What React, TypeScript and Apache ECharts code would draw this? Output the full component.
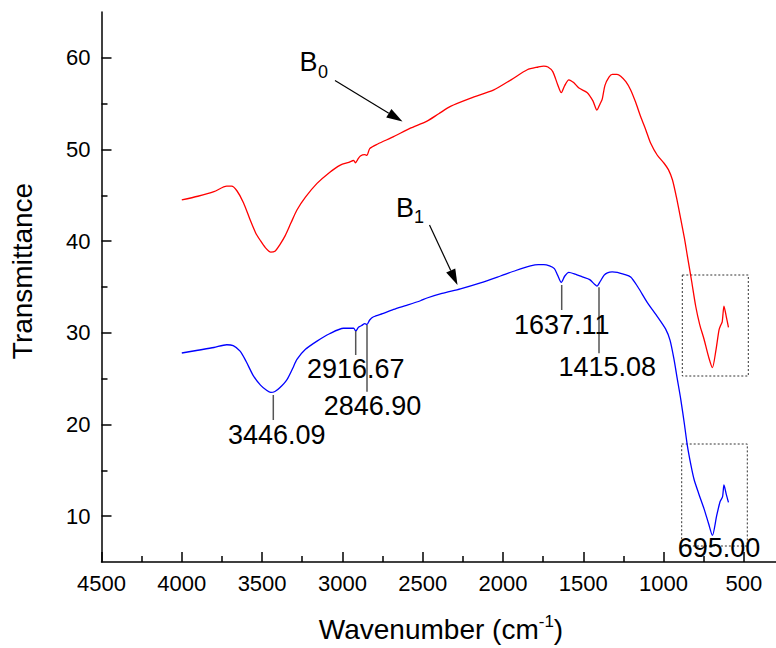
import React, { useEffect, useRef } from "react";
import * as echarts from "echarts";

const FONT = '"Liberation Sans", Arial, Helvetica, sans-serif';

// X axis (wavenumber, cm-1), reversed
const xMajorTicks = [4500, 4000, 3500, 3000, 2500, 2000, 1500, 1000, 500];
const xMinorTicks = [4250, 3750, 3250, 2750, 2250, 1750, 1250, 750];
// Y axis (transmittance)
const yMajorTicks = [10, 20, 30, 40, 50, 60];
const yMinorTicks = [15, 25, 35, 45, 55];

// Sample B0 (red)
const b0Wavenumber = [
  4000, 3900, 3800, 3720, 3690, 3657, 3616, 3574, 3540, 3512, 3480, 3446, 3420, 3390, 3356, 3320,
  3283, 3230, 3158, 3080, 3013, 2960, 2930, 2918, 2905, 2888, 2860, 2847, 2830, 2780, 2681, 2580,
  2473, 2400, 2327, 2200, 2057, 1950, 1849, 1780, 1746, 1720, 1690, 1660, 1637, 1615, 1590, 1560,
  1527, 1475, 1440, 1415, 1395, 1382, 1365, 1340, 1319, 1290, 1267, 1235, 1205, 1175, 1143, 1110,
  1081, 1040, 997, 970, 945, 920, 893, 870, 852, 825, 800, 775, 748, 720, 696, 675, 655, 645, 635,
  624, 610, 596,
];
const b0Transmittance = [
  44.5, 44.9, 45.4, 46.0, 46.0, 45.5, 44.2, 42.3, 40.9, 40.1, 39.3, 38.8, 38.9, 39.6, 40.6, 42.0,
  43.4, 44.8, 46.3, 47.5, 48.3, 48.6, 48.8, 48.55, 48.9, 49.3, 49.45, 49.35, 50.1, 50.6, 51.4, 52.3,
  53.1, 53.9, 54.7, 55.6, 56.5, 57.6, 58.7, 59.0, 59.1, 59.0, 58.5, 57.1, 56.2, 57.0, 57.6, 57.3,
  56.7, 56.2, 55.3, 54.3, 55.0, 55.5, 57.0, 57.9, 58.2, 58.2, 58.0, 57.4, 56.5, 55.2, 53.6, 52.1,
  50.7, 49.4, 48.5, 47.8, 46.7, 44.8, 42.4, 40.3, 38.4, 35.6, 32.9, 30.9, 29.3, 27.4, 26.2, 28.0,
  30.3, 30.8, 31.2, 32.9, 31.8, 30.6,
];

// Sample B1 (blue)
const b1Wavenumber = [
  4000, 3900, 3800, 3720, 3680, 3637, 3600, 3554, 3510, 3470, 3446, 3420, 3390, 3345, 3310, 3283,
  3230, 3158, 3080, 2993, 2950, 2930, 2917, 2900, 2880, 2860, 2847, 2830, 2806, 2750, 2681, 2600,
  2514, 2473, 2380, 2265, 2140, 2016, 1920, 1829, 1780, 1746, 1710, 1680, 1660, 1637, 1615, 1590,
  1550, 1506, 1460, 1430, 1415, 1395, 1370, 1350, 1320, 1288, 1250, 1205, 1160, 1101, 1040, 987,
  960, 935, 915, 893, 870, 852, 830, 810, 780, 748, 720, 696, 670, 648, 633, 624, 610, 596,
];
const b1Transmittance = [
  27.8, 28.1, 28.4, 28.7, 28.6, 28.0, 26.9, 25.3, 24.3, 23.7, 23.5, 23.6, 24.0, 24.9, 26.1, 27.1,
  28.2, 29.1, 29.9, 30.5, 30.5, 30.5, 30.2, 30.6, 30.8, 31.0, 30.9, 31.4, 31.75, 32.1, 32.55, 33.0,
  33.5, 33.8, 34.3, 34.8, 35.45, 36.2, 36.8, 37.3, 37.45, 37.45, 37.3, 37.0, 36.3, 35.5, 36.2, 36.6,
  36.4, 36.1, 35.8, 35.3, 35.1, 35.6, 36.3, 36.55, 36.65, 36.6, 36.4, 36.1, 35.0, 33.3, 31.8, 30.4,
  29.2, 27.1, 25.0, 22.75, 20.0, 17.7, 15.6, 14.0, 12.4, 10.8, 9.2, 7.9, 10.0, 11.6, 12.1, 13.4,
  12.4, 11.5,
];

const peakLabels = ["3446.09", "2916.67", "2846.90", "1637.11", "1415.08", "695.00"];

function arrow(x1: number, y1: number, x2: number, y2: number) {
  const dx = x2 - x1;
  const dy = y2 - y1;
  const len = Math.sqrt(dx * dx + dy * dy);
  const ux = dx / len;
  const uy = dy / len;
  const hl = 16;
  const hw = 5;
  const bx = x2 - ux * hl;
  const by = y2 - uy * hl;
  return [
    {
      type: "line",
      shape: { x1, y1, x2: bx, y2: by },
      style: { stroke: "#000", lineWidth: 1.2 },
    },
    {
      type: "polygon",
      shape: {
        points: [
          [x2, y2],
          [bx - uy * hw, by + ux * hw],
          [bx + uy * hw, by - ux * hw],
        ],
      },
      style: { fill: "#000" },
    },
  ];
}

function textEl(text: string, x: number, y: number, size: number) {
  return {
    type: "text",
    x,
    y,
    style: {
      text,
      fontSize: size,
      fontFamily: FONT,
      fill: "#000",
      align: "center",
      verticalAlign: "middle",
    },
    z: 10,
  };
}

function vline(x: number, y1: number, y2: number) {
  return {
    type: "line",
    shape: { x1: x, y1, x2: x, y2 },
    style: { stroke: "#555", lineWidth: 1.5 },
    z: 9,
  };
}

export default function App() {
  const ref = useRef<HTMLDivElement>(null);
  useEffect(() => {
    if (!ref.current) return;
    const chart = echarts.init(ref.current, null, { renderer: "svg" });
    const axisLineStyle = { color: "#000", width: 1.5 };
    const b0Data = b0Wavenumber.map((w, i) => [w, b0Transmittance[i]]);
    const b1Data = b1Wavenumber.map((w, i) => [w, b1Transmittance[i]]);

    const graphics: any[] = [
      {
        type: "text",
        x: 441,
        y: 629,
        style: {
          text: "{a|Wavenumber (cm}{s|-1}{a|)}",
          align: "center",
          verticalAlign: "middle",
          rich: {
            a: { fontSize: 28, fontFamily: FONT, fill: "#000", lineHeight: 32 },
            s: { fontSize: 17, fontFamily: FONT, fill: "#000", verticalAlign: "top", lineHeight: 20 },
          },
        },
      },
      {
        type: "text",
        x: 22.5,
        y: 271,
        rotation: Math.PI / 2,
        style: {
          text: "Transmittance",
          fontSize: 28,
          fontFamily: FONT,
          fill: "#000",
          align: "center",
          verticalAlign: "middle",
        },
      },
      textEl("B", 308.5, 62, 27),
      textEl("0", 323, 71.5, 18),
      ...arrow(335, 80.5, 402.5, 121.5),
      textEl("B", 405, 207.5, 27),
      textEl("1", 419, 216.5, 18),
      ...arrow(429.5, 225, 457.5, 285),
      {
        type: "rect",
        shape: { x: 682.3, y: 275, width: 66, height: 101 },
        style: { fill: "none", stroke: "#333", lineWidth: 1, lineDash: [2, 2] },
      },
      {
        type: "rect",
        shape: { x: 681.7, y: 444, width: 65.6, height: 102 },
        style: { fill: "none", stroke: "#333", lineWidth: 1, lineDash: [2, 2] },
      },
      vline(273.3, 395, 420),
      vline(355.7, 331, 355),
      vline(367, 325, 391.7),
      vline(561.7, 285, 310),
      vline(599, 287.3, 353.3),
      textEl(peakLabels[0], 276.7, 435, 27),
      textEl(peakLabels[1], 355.8, 369, 27),
      textEl(peakLabels[2], 372.5, 406, 27),
      textEl(peakLabels[3], 561.7, 325, 27),
      textEl(peakLabels[4], 607.3, 366.7, 27),
      textEl(peakLabels[5], 719, 548, 27),
    ];

    const option: any = {
      animation: false,
      backgroundColor: "#fff",
      textStyle: { fontFamily: FONT },
      grid: {
        left: 101.5,
        right: 0,
        top: 12,
        bottom: 86,
        containLabel: false,
        outerBoundsMode: "none",
      },
      xAxis: [
        {
          type: "value",
          inverse: true,
          min: 300,
          max: 4500,
          position: "bottom",
          axisLine: { show: true, onZero: false, lineStyle: axisLineStyle },
          axisTick: {
            show: true,
            inside: true,
            length: 10,
            lineStyle: axisLineStyle,
            customValues: xMajorTicks,
          },
          axisLabel: {
            customValues: xMajorTicks,
            formatter: (v: number) => String(v),
            fontSize: 22,
            fontFamily: FONT,
            color: "#000",
            margin: 10,
            showMinLabel: true,
            showMaxLabel: true,
          },
          splitLine: { show: false },
        },
        {
          type: "value",
          inverse: true,
          min: 300,
          max: 4500,
          position: "bottom",
          axisLine: { show: false, onZero: false },
          axisTick: {
            show: true,
            inside: true,
            length: 6,
            lineStyle: axisLineStyle,
            customValues: xMinorTicks,
          },
          axisLabel: { show: false },
          splitLine: { show: false },
        },
      ],
      yAxis: [
        {
          type: "value",
          min: 5,
          max: 65,
          position: "left",
          axisLine: { show: true, onZero: false, lineStyle: axisLineStyle },
          axisTick: {
            show: true,
            inside: true,
            length: 10,
            lineStyle: axisLineStyle,
            customValues: yMajorTicks,
          },
          axisLabel: {
            customValues: yMajorTicks,
            formatter: (v: number) => String(v),
            fontSize: 22,
            fontFamily: FONT,
            color: "#000",
            margin: 11,
          },
          splitLine: { show: false },
        },
        {
          type: "value",
          min: 5,
          max: 65,
          position: "left",
          axisLine: { show: false, onZero: false },
          axisTick: {
            show: true,
            inside: true,
            length: 6,
            lineStyle: axisLineStyle,
            customValues: yMinorTicks,
          },
          axisLabel: { show: false },
          splitLine: { show: false },
        },
      ],
      series: [
        {
          name: "B0",
          type: "line",
          xAxisIndex: 0,
          yAxisIndex: 0,
          data: b0Data,
          showSymbol: false,
          smooth: 0.25,
          lineStyle: { color: "#ff0000", width: 1.3 },
          itemStyle: { color: "#ff0000" },
        },
        {
          name: "B1",
          type: "line",
          xAxisIndex: 0,
          yAxisIndex: 0,
          data: b1Data,
          showSymbol: false,
          smooth: 0.25,
          lineStyle: { color: "#0000ff", width: 1.3 },
          itemStyle: { color: "#0000ff" },
        },
      ],
      graphic: graphics,
    };
    chart.setOption(option);
    return () => chart.dispose();
  }, []);

  return (
    <div
      ref={ref}
      style={{ position: "fixed", left: 0, top: 0, width: 776, height: 648, background: "#fff" }}
    />
  );
}
